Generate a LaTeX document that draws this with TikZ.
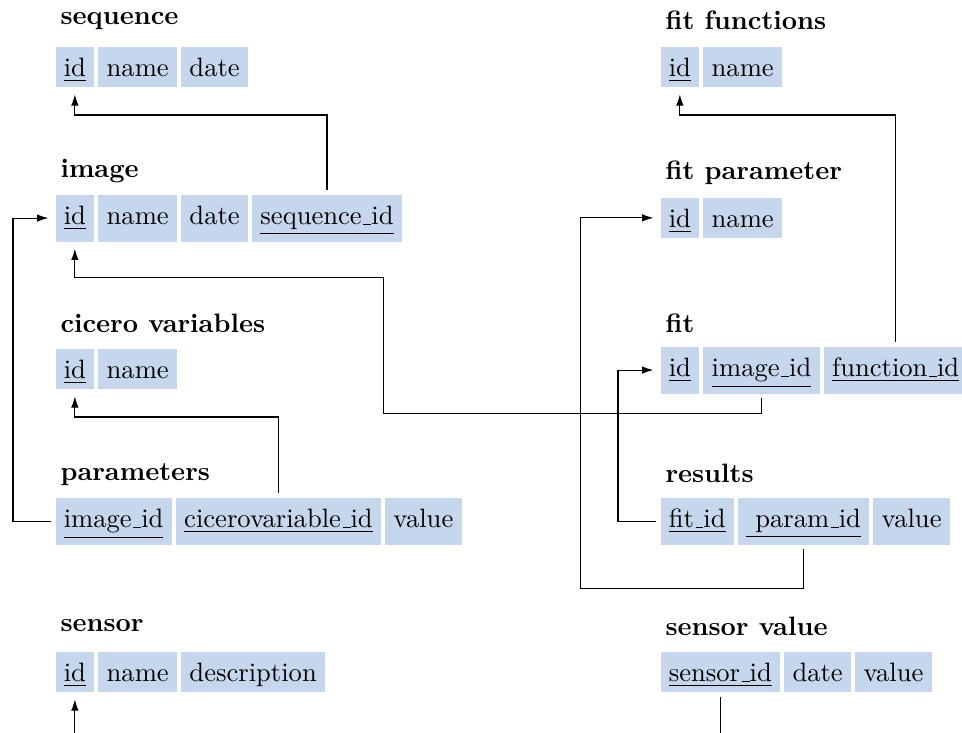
\documentclass[tikz,border=0pt]{standalone}
\usetikzlibrary{arrows.meta,positioning}
\definecolor{attrblue}{HTML}{C6D6EC}
\newcommand{\us}{\leavevmode\kern.06em\vbox{\hrule width .3em}}
\newcommand{\key}[1]{\underline{#1}}
\tikzset{
  attr/.style={fill=attrblue, inner xsep=3.1pt, inner ysep=2.8pt,
               text height=8.6pt, text depth=1.1pt},
  deep/.style={text depth=3.5pt},
  tname/.style={font=\bfseries, anchor=base west, inner sep=0pt},
  fk/.style={-{Latex[length=4.2pt,width=2.8pt]}, line width=0.4pt,
             shorten <=1.5pt, shorten >=2.5pt}}

\begin{document}
\begin{tikzpicture}[x=0.376pt, y=-0.376pt, node distance=1.2pt]
    \useasboundingbox (0,0) rectangle (962,733);
    \clip (0,0) rectangle (962,733);
    % left column
    \node[tname] (seqt) at (60,25) {sequence};
    \node[attr, anchor=north west] (seqid) at (55,46) {\key{id}};
    \node[attr, right=of seqid] (seqname) {name};
    \node[attr, right=of seqname] (seqdate) {date};

    \node[tname] (imgt) at (60,178) {image};
    \node[attr, deep, anchor=north west] (imgid) at (55,194) {\key{id}};
    \node[attr, deep, right=of imgid] (imgname) {name};
    \node[attr, deep, right=of imgname] (imgdate) {date};
    \node[attr, deep, right=of imgdate] (imgseq) {\key{sequence\us id}};

    \node[tname] (cvt) at (60,333) {cicero variables};
    \node[attr, anchor=north west] (cvid) at (55,348) {\key{id}};
    \node[attr, right=of cvid] (cvname) {name};

    \node[tname] (part) at (60,481) {parameters};
    \node[attr, deep, anchor=north west] (parimg) at (55,497) {\key{image\us id}};
    \node[attr, deep, right=of parimg] (parcv) {\key{cicerovariable\us id}};
    \node[attr, deep, right=of parcv] (parval) {value};

    \node[tname] (sent) at (60,632) {sensor};
    \node[attr, anchor=north west] (senid) at (55,651) {\key{id}};
    \node[attr, right=of senid] (senname) {name};
    \node[attr, right=of senname] (sendesc) {description};

    % right column
    \node[tname] (fft) at (665,30) {fit functions};
    \node[attr, anchor=north west] (ffid) at (660,46) {\key{id}};
    \node[attr, right=of ffid] (ffname) {name};

    \node[tname] (fpt) at (665,180) {fit parameter};
    \node[attr, anchor=north west] (fpid) at (660,197) {\key{id}};
    \node[attr, right=of fpid] (fpname) {name};

    \node[tname] (fitt) at (665,333) {fit};
    \node[attr, deep, anchor=north west] (fitid) at (660,346) {\key{id}};
    \node[attr, deep, right=of fitid] (fitimg) {\key{image\us id}};
    \node[attr, deep, right=of fitimg] (fitfun) {\key{function\us id}};

    \node[tname] (rest) at (665,483) {results};
    \node[attr, deep, anchor=north west] (resfit) at (660,497) {\key{fit\us id}};
    \node[attr, deep, right=of resfit] (respar) {\key{\ param\us id}};
    \node[attr, deep, right=of respar] (resval) {value};

    \node[tname] (svt) at (665,636) {sensor value};
    \node[attr, anchor=north west] (svsid) at (660,651) {\key{sensor\us id}};
    \node[attr, right=of svsid] (svdate) {date};
    \node[attr, right=of svdate] (svval) {value};

    % foreign keys
    \draw[fk] (imgseq.north) -- ++(0,-79) -| (seqid.south);
    \draw[fk] (parimg.west) -- ++(-42,0) |- (imgid.west);
    \draw[fk] (fitimg.south) -- ++(0,19) -- ++(-378,0) -- ++(0,-136) -| (imgid.south);
    \draw[fk] (parcv.north) -- ++(0,-80) -| (cvid.south);
    \draw[fk] (fitfun.north) -- ++(0,-231) -| (ffid.south);
    \draw[fk] (respar.south) -- ++(0,43) -- ++(-223,0) |- (fpid.west);
    \draw[fk] (resfit.west) -- ++(-42,0) |- (fitid.west);
    \draw[fk] (senid.south) ++(0,80) -- (senid.south);
    \draw[fk, -] (svsid.south) -- ++(0,80);
\end{tikzpicture}
\end{document}
